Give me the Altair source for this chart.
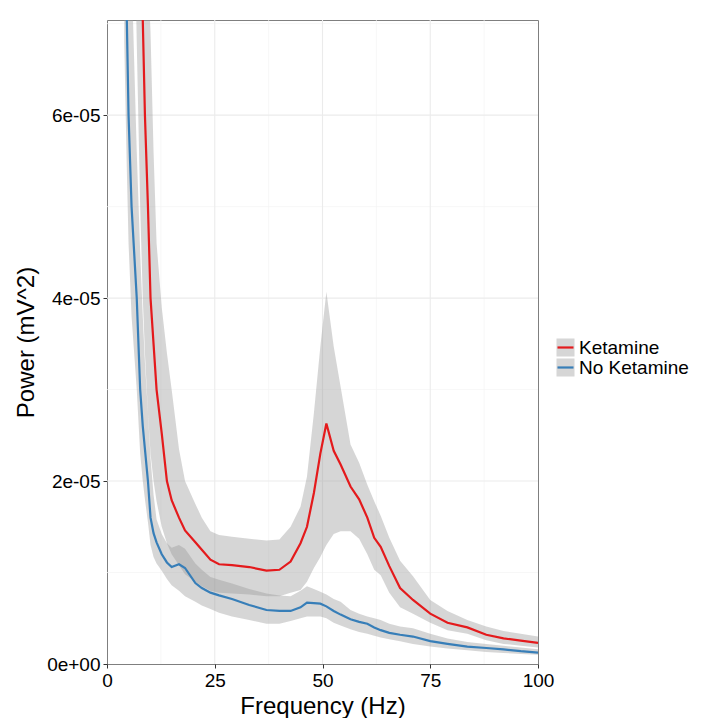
import altair as alt
import pandas as pd

# ---- data (power in units of 1e-5 mV^2) ----
FREQ = [4, 4.6, 5, 5.7, 6.9, 7.7, 8.3, 8.8, 9.5, 10.1, 10.8, 11.5, 12.7, 13.9, 15,
        16.7, 18.1, 20.5, 22, 24, 26, 29, 33, 37, 40, 42.6, 44.9, 46.4, 48, 49.5,
        50.9, 52.6, 54.2, 56.5, 58.5, 60.4, 62, 63.5, 65.5, 68, 71, 75, 79, 83.6,
        88, 92, 96, 100]

KET_MEAN = [24, 21, 19, 15.5, 11, 8.6, 7.04, 6.0, 5.0, 4.0, 3.5, 3.0, 2.52, 2.0, 1.79,
            1.60, 1.46, 1.33, 1.25, 1.14, 1.09, 1.08, 1.06, 1.02, 1.03, 1.12, 1.32, 1.50, 1.87, 2.30,
            2.63, 2.33, 2.18, 1.94, 1.80, 1.60, 1.38, 1.28, 1.07, 0.83, 0.70, 0.55, 0.45, 0.40,
            0.32, 0.28, 0.255, 0.23]
KET_HI = [32, 28, 25.5, 21, 15, 12, 10, 8.7, 7.6, 6.9, 5.6, 4.6, 3.9, 3.4, 3.0,
          2.35, 2.0, 1.75, 1.6, 1.45, 1.41, 1.39, 1.37, 1.35, 1.36, 1.50, 1.72, 2.05, 2.74, 3.47,
          4.07, 3.47, 3.03, 2.40, 2.20, 1.96, 1.78, 1.62, 1.38, 1.13, 0.96, 0.70, 0.58, 0.48,
          0.41, 0.36, 0.33, 0.30]
KET_LO = [16, 14, 12.5, 9.8, 6.8, 5.0, 4.0, 3.4, 2.75, 2.3, 2.0, 1.78, 1.5, 1.32, 1.2,
          1.08, 0.98, 0.90, 0.85, 0.80, 0.78, 0.77, 0.76, 0.74, 0.74, 0.78, 0.81, 0.90, 1.05, 1.17,
          1.30, 1.42, 1.45, 1.45, 1.37, 1.20, 1.03, 0.97, 0.78, 0.62, 0.55, 0.45, 0.37, 0.33,
          0.26, 0.22, 0.20, 0.18]

NOK_MEAN = [8.7, 7.04, 6.0, 5.0, 4.0, 3.0, 2.6, 2.35, 2.0, 1.6, 1.43, 1.33, 1.2, 1.11, 1.06,
            1.09, 1.05, 0.885, 0.83, 0.78, 0.75, 0.71, 0.645, 0.59, 0.58, 0.58, 0.62, 0.67, 0.665, 0.66,
            0.63, 0.58, 0.54, 0.49, 0.46, 0.44, 0.40, 0.37, 0.34, 0.32, 0.30, 0.25, 0.22, 0.19,
            0.175, 0.16, 0.14, 0.125]
NOK_HI = [12, 10.5, 9.3, 7.6, 5.6, 4.5, 3.8, 3.3, 2.75, 2.25, 1.85, 1.58, 1.42, 1.32, 1.27,
          1.30, 1.26, 1.10, 1.03, 0.95, 0.92, 0.88, 0.82, 0.77, 0.75, 0.74, 0.80, 0.85, 0.82, 0.79,
          0.76, 0.71, 0.68, 0.59, 0.55, 0.52, 0.50, 0.48, 0.44, 0.41, 0.39, 0.33, 0.28, 0.24,
          0.22, 0.20, 0.18, 0.16]
NOK_LO = [6.8, 5.4, 4.6, 3.8, 3.0, 2.3, 2.0, 1.8, 1.55, 1.3, 1.17, 1.1, 1.02, 0.93, 0.86,
          0.80, 0.74, 0.68, 0.64, 0.60, 0.56, 0.52, 0.48, 0.44, 0.44, 0.47, 0.50, 0.52, 0.52, 0.52,
          0.50, 0.45, 0.42, 0.38, 0.35, 0.33, 0.31, 0.29, 0.27, 0.25, 0.22, 0.19, 0.17, 0.15,
          0.13, 0.12, 0.11, 0.10]

UNIT = 1e-5
SERIES = ["Ketamine", "No Ketamine"]
COLORS = ["#E41A1C", "#377EB8"]
X_TICKS = [0, 25, 50, 75, 100]
X_GRID = [25, 50, 75]
X_MINOR = [12.5, 37.5, 62.5, 87.5]
Y_TICKS = [0, 2e-5, 4e-5, 6e-5]
Y_TICK_LABELS = ["0e+00", "2e-05", "4e-05", "6e-05"]
Y_GRID = [2e-5, 4e-5, 6e-5]
Y_MINOR = [1e-5, 3e-5, 5e-5, 7e-5]
X_DOMAIN = [0, 100]
Y_DOMAIN = [0, 7.04e-5]

# ---- build table ----
rows = []
for name, m, lo, hi in [(SERIES[0], KET_MEAN, KET_LO, KET_HI),
                        (SERIES[1], NOK_MEAN, NOK_LO, NOK_HI)]:
    for f, a, b, c in zip(FREQ, m, lo, hi):
        rows.append({"freq": f, "mean": a * UNIT, "lo": b * UNIT, "hi": c * UNIT,
                     "series": name, "band": name})
df = pd.DataFrame(rows)

FONT = "Liberation Sans"

expr = "''"
for v, lab in zip(reversed(Y_TICKS), reversed(Y_TICK_LABELS)):
    expr = f"abs(datum.value - {v}) < 1e-9 ? '{lab}' : ({expr})"

xscale = alt.Scale(domain=X_DOMAIN, nice=False, zero=False)
yscale = alt.Scale(domain=Y_DOMAIN, nice=False)

xaxis = alt.Axis(values=X_TICKS, title="Frequency (Hz)", labelFontSize=19, titleFontSize=24,
                 labelColor="black", titleColor="black", labelFont=FONT, titleFont=FONT,
                 titleFontWeight="normal", tickColor="#333333", tickSize=4, labelPadding=3,
                 titlePadding=4, grid=False, domain=False, labelFlush=False)
yaxis = alt.Axis(values=Y_TICKS, title="Power (mV^2)", labelFontSize=19, titleFontSize=24,
                 labelColor="black", titleColor="black", labelFont=FONT, titleFont=FONT,
                 titleFontWeight="normal", tickColor="#333333", tickSize=4, labelPadding=3,
                 titlePadding=8, grid=False, domain=False, labelExpr=expr, labelFlush=False)


def vrules(vals, color, width):
    return alt.Chart(pd.DataFrame({"v": vals})).mark_rule(color=color, strokeWidth=width).encode(
        x=alt.X("v:Q", scale=xscale, axis=xaxis))


def hrules(vals, color, width):
    return alt.Chart(pd.DataFrame({"v": vals})).mark_rule(color=color, strokeWidth=width).encode(
        y=alt.Y("v:Q", scale=yscale, axis=yaxis))


base = alt.Chart(df)

ribbon = base.mark_area(clip=True, opacity=0.4).encode(
    x=alt.X("freq:Q", scale=xscale, axis=xaxis),
    y=alt.Y("lo:Q", scale=yscale, axis=yaxis, stack=None),
    y2="hi:Q",
    fill=alt.Fill("band:N", scale=alt.Scale(range=["#999999", "#999999"]),
                  legend=alt.Legend(title=None, orient="none", legendX=449, legendY=318,
                                    symbolType="square", symbolSize=324, symbolOpacity=0.4,
                                    symbolStrokeWidth=0, labelOpacity=0, labelFontSize=19,
                                    labelFont=FONT, rowPadding=0, padding=0, labelOffset=4)),
)

lines = base.mark_line(clip=True, strokeWidth=2.2).encode(
    x=alt.X("freq:Q", scale=xscale, axis=xaxis),
    y=alt.Y("mean:Q", scale=yscale, axis=yaxis),
    stroke=alt.Stroke("series:N", scale=alt.Scale(domain=SERIES, range=COLORS),
                      legend=alt.Legend(title=None, orient="none", legendX=449, legendY=318,
                                        symbolType="stroke", symbolSize=256, symbolStrokeWidth=2.2,
                                        labelFontSize=19, labelFont=FONT, labelColor="black",
                                        rowPadding=0, padding=0, labelOffset=4)),
)

chart = alt.layer(
    vrules(X_MINOR, "#F4F4F4", 0.7), hrules(Y_MINOR, "#F4F4F4", 0.7),
    vrules(X_GRID, "#EBEBEB", 1.1), hrules(Y_GRID, "#EBEBEB", 1.1),
    ribbon, lines,
).properties(
    width=431, height=644,
    autosize=alt.AutoSizeParams(type="none"),
    padding={"left": 99, "top": 12, "right": 171, "bottom": 54},
    background="white",
).configure_view(stroke="#7F7F7F", strokeWidth=1)

chart.save("out.html", embed_options={"renderer": "svg", "actions": False})
